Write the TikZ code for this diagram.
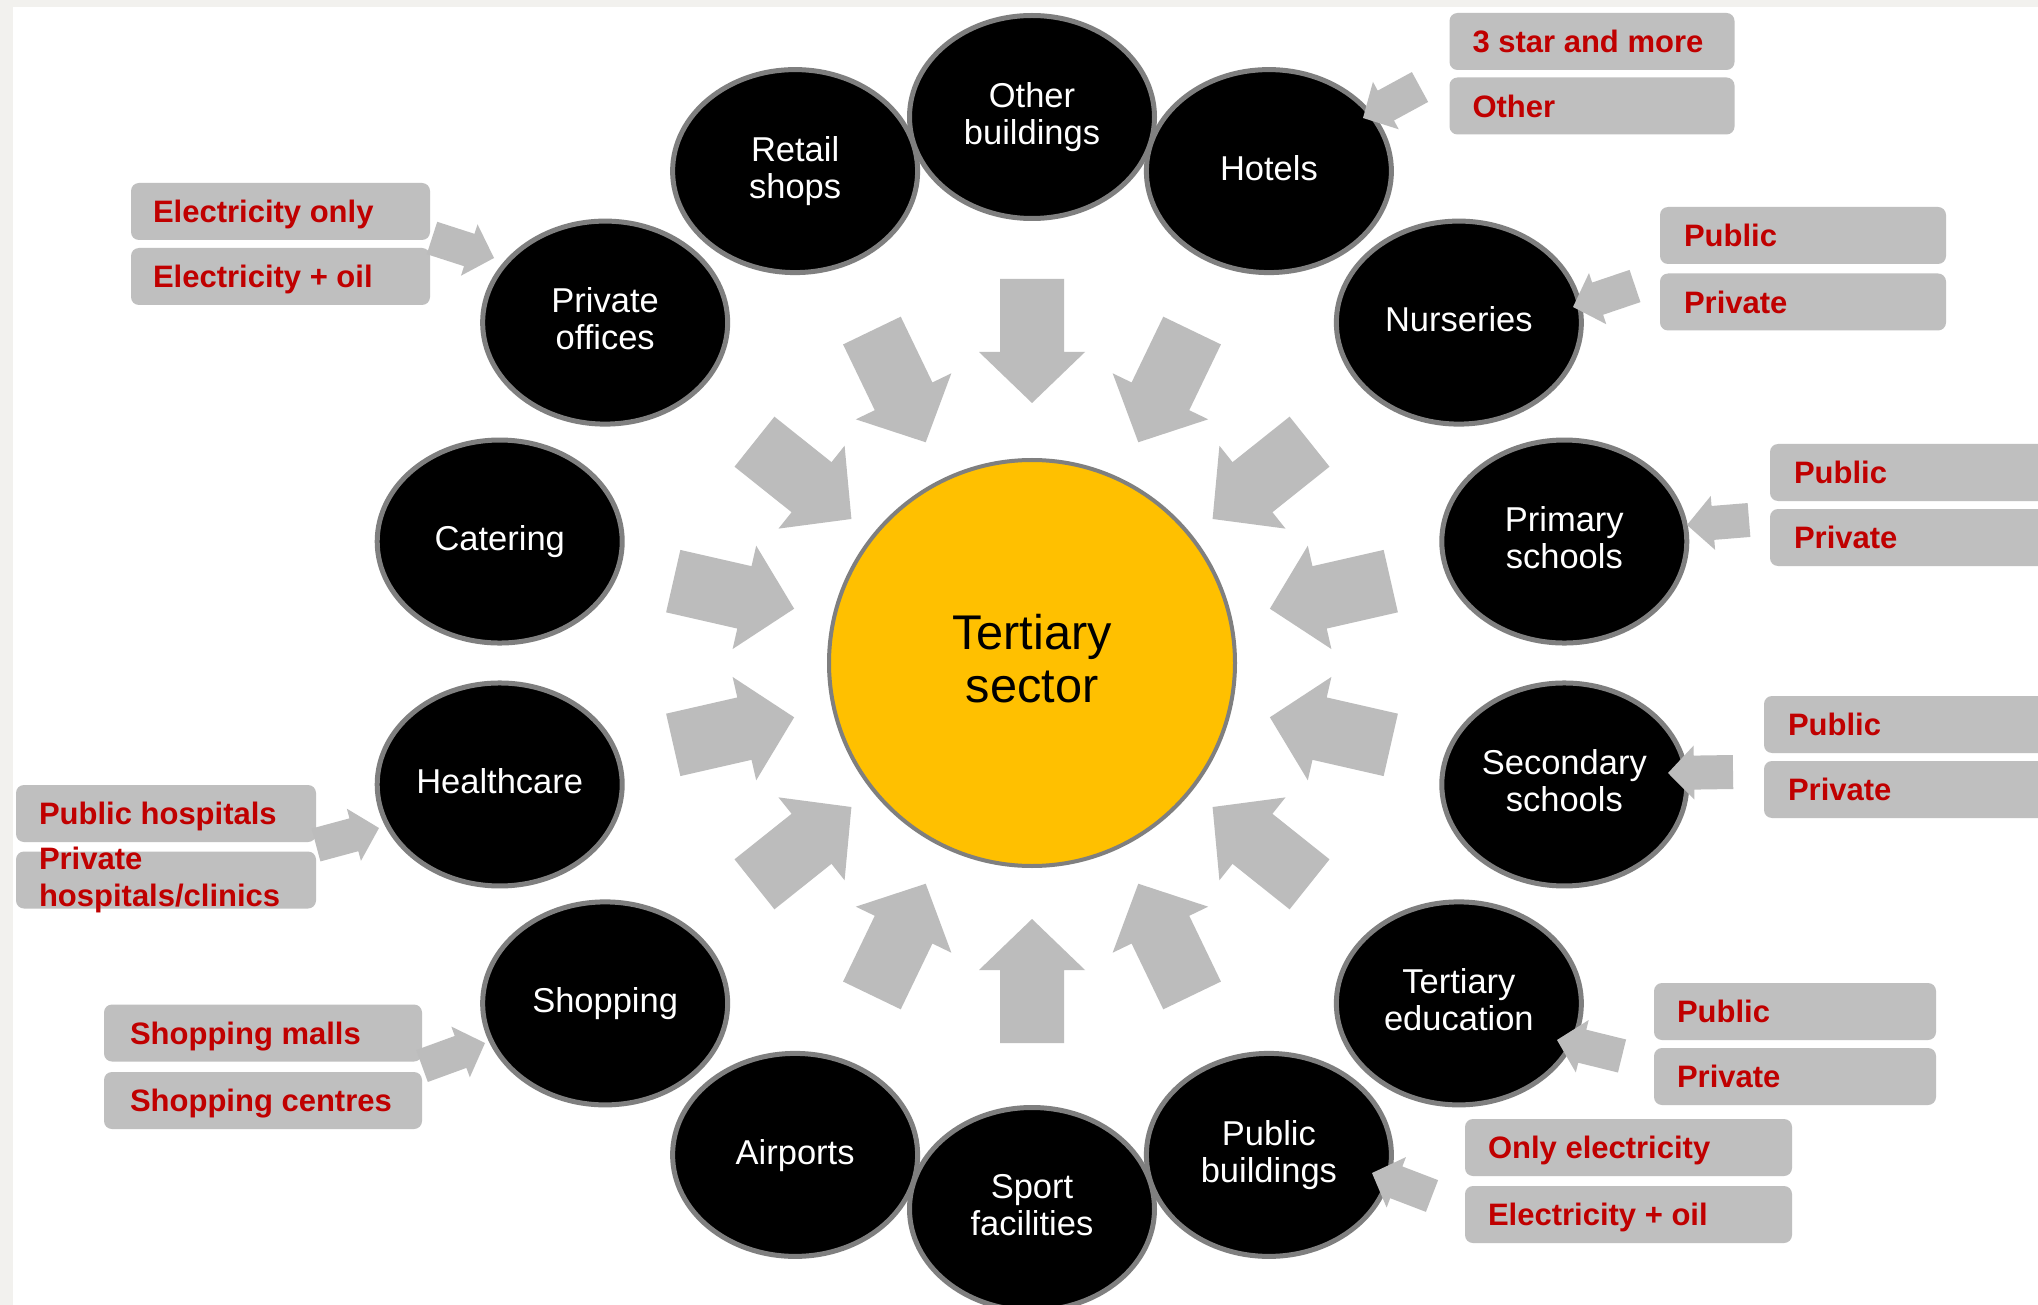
\documentclass[tikz,border=0pt]{standalone}
\usepackage{fontspec}
\setmainfont{Liberation Sans}
\usetikzlibrary{shapes.geometric,calc}

\definecolor{boxgrey}{HTML}{BFBFBF}
\definecolor{arrowgrey}{HTML}{BCBCBC}
\definecolor{rimgrey}{HTML}{7F7F7F}
\definecolor{sun}{HTML}{FFC000}
\definecolor{labelred}{HTML}{C00000}
\definecolor{paper}{HTML}{F2F1EE}

% block arrow: #1 tail, #2 tip, #3 half shaft width, #4 half head width,
% #5 head length, #6 prefix for the helper coordinate
\newcommand\blockarrow[6]{%
  \coordinate (#6-hb) at ($(#2)!#5!(#1)$);
  \fill[arrowgrey] ($(#1)!#3!90:(#2)$) -- ($(#6-hb)!#3!-90:(#1)$)
    -- ($(#6-hb)!#4!-90:(#1)$) -- (#2) -- ($(#6-hb)!#4!90:(#1)$)
    -- ($(#6-hb)!#3!90:(#1)$) -- ($(#1)!#3!-90:(#2)$) -- cycle;
}

% invisible struts so that every label sits on the same line metrics
\newcommand\bubblestrut{\rule[-7.3pt]{0pt}{33.3pt}}
\newcommand\hubstrut{\rule[-9pt]{0pt}{45pt}}
\newcommand\labelstrut{\rule[-6.8pt]{0pt}{36.3pt}}

\begin{document}
\begin{tikzpicture}[x=1pt,y=1pt,
  bubble/.style={ellipse, draw=rimgrey, line width=5pt, fill=black,
    minimum width=245pt, minimum height=203pt, inner sep=0pt,
    text=white, align=center, font=\fontsize{34.5}{37}\selectfont,
    execute at begin node=\bubblestrut, execute at end node=\bubblestrut},
  hub/.style={circle, draw=rimgrey, line width=4pt, fill=sun,
    minimum size=406pt, inner sep=0pt, align=center,
    font=\fontsize{48.7}{53}\selectfont,
    execute at begin node=\hubstrut, execute at end node=\hubstrut},
  subbox/.style={rectangle, rounded corners=8pt, fill=boxgrey,
    minimum height=57pt, inner sep=0pt},
  subtext/.style={anchor=west, inner sep=0pt, text=labelred, align=left,
    font=\bfseries\fontsize{31}{37}\selectfont,
    execute at begin node=\labelstrut, execute at end node=\labelstrut},
]
\useasboundingbox (0,0) rectangle (2038,-1305);
\clip (0,0) rectangle (2038,-1305);
\fill[paper] (0,0) rectangle (2038,-1305);
\fill[white] (13,-7) rectangle (2038,-1305);

\coordinate (c) at (1032,-663);

% ring of inward arrows
\foreach \k/\m in {0/322,1/307,2/293,3/306,4/306,5/293,6/307,7/318,8/307,9/293,10/306,11/306,12/293,13/307}{
  \pgfmathsetmacro\ang{90-\k*360/14}
  \pgfmathsetmacro\rt{\m+62}
  \pgfmathsetmacro\rp{\m-62}
  \coordinate (ring-tail-\k) at ([shift={(\ang:\rt)}]c);
  \coordinate (ring-tip-\k) at ([shift={(\ang:\rp)}]c);
  \blockarrow{ring-tail-\k}{ring-tip-\k}{32pt}{53pt}{51pt}{ring\k}
}

% centre
\node[hub] (hub) at (c) {Tertiary\\sector};

% categories around the centre
\node[bubble] (other)    at ([shift={(90:546)}]c)      {Other\\buildings};
\node[bubble] (hotels)   at ([shift={(64.286:546)}]c)  {Hotels};
\node[bubble] (nurs)     at ([shift={(38.571:546)}]c)  {Nurseries};
\node[bubble] (primary)  at ([shift={(12.857:546)}]c)  {Primary\\schools};
\node[bubble] (second)   at ([shift={(-12.857:546)}]c) {Secondary\\schools};
\node[bubble] (tertedu)  at ([shift={(-38.571:546)}]c) {Tertiary\\education};
\node[bubble] (airports) at ([shift={(-115.714:546)}]c) {Airports};
\node[bubble] (sport)    at ([shift={(-90:546)}]c)     {Sport\\facilities};
\node[bubble] (pubbuild) at ([shift={(-64.286:546)}]c) {Public\\buildings};
\node[bubble] (shopping) at ([shift={(-141.429:546)}]c) {Shopping};
\node[bubble] (health)   at ([shift={(-167.143:546)}]c) {Healthcare};
\node[bubble] (catering) at ([shift={(167.143:546)}]c) {Catering};
\node[bubble] (offices)  at ([shift={(141.429:546)}]c) {Private\\offices};
\node[bubble] (retail)   at ([shift={(115.714:546)}]c) {Retail\\shops};

% sub-category boxes
\node[subbox, minimum width=285pt] (hot-a) at (1592,-41.5) {};
\node[subbox, minimum width=285pt] (hot-b) at (1592,-106) {};
\node[subbox, minimum width=286pt] (nur-a) at (1803,-235.5) {};
\node[subbox, minimum width=286pt] (nur-b) at (1803,-302) {};
\node[subbox, minimum width=299pt] (off-a) at (280.5,-211.5) {};
\node[subbox, minimum width=299pt] (off-b) at (280.5,-276.5) {};
\node[subbox, minimum width=300pt] (pri-a) at (1920,-472.5) {};
\node[subbox, minimum width=300pt] (pri-b) at (1920,-537.5) {};
\node[subbox, minimum width=300pt] (sec-a) at (1914,-724.5) {};
\node[subbox, minimum width=300pt] (sec-b) at (1914,-789.5) {};
\node[subbox, minimum width=300pt] (hea-a) at (166,-813.5) {};
\node[subbox, minimum width=300pt] (hea-b) at (166,-880) {};
\node[subbox, minimum width=318pt] (sho-a) at (263,-1033) {};
\node[subbox, minimum width=318pt] (sho-b) at (263,-1100.5) {};
\node[subbox, minimum width=282pt] (ter-a) at (1795,-1011.5) {};
\node[subbox, minimum width=282pt] (ter-b) at (1795,-1076.5) {};
\node[subbox, minimum width=327pt] (pub-a) at (1628.5,-1147.5) {};
\node[subbox, minimum width=327pt] (pub-b) at (1628.5,-1214.5) {};

\node[subtext] (hot-a-t) at ([xshift=23pt]hot-a.west) {3 star and more};
\node[subtext] (hot-b-t) at ([xshift=23pt]hot-b.west) {Other};
\node[subtext] (nur-a-t) at ([xshift=24pt]nur-a.west) {Public};
\node[subtext] (nur-b-t) at ([xshift=24pt]nur-b.west) {Private};
\node[subtext] (off-a-t) at ([xshift=22pt]off-a.west) {Electricity only};
\node[subtext] (off-b-t) at ([xshift=22pt]off-b.west) {Electricity + oil};
\node[subtext] (pri-a-t) at ([xshift=24pt]pri-a.west) {Public};
\node[subtext] (pri-b-t) at ([xshift=24pt]pri-b.west) {Private};
\node[subtext] (sec-a-t) at ([xshift=24pt]sec-a.west) {Public};
\node[subtext] (sec-b-t) at ([xshift=24pt]sec-b.west) {Private};
\node[subtext] (hea-a-t) at ([xshift=23pt]hea-a.west) {Public hospitals};
\node[subtext] (hea-b-t) at ([xshift=23pt]hea-b.west) {Private\\hospitals/clinics};
\node[subtext] (sho-a-t) at ([xshift=26pt]sho-a.west) {Shopping malls};
\node[subtext] (sho-b-t) at ([xshift=26pt]sho-b.west) {Shopping centres};
\node[subtext] (ter-a-t) at ([xshift=23pt]ter-a.west) {Public};
\node[subtext] (ter-b-t) at ([xshift=23pt]ter-b.west) {Private};
\node[subtext] (pub-a-t) at ([xshift=23pt]pub-a.west) {Only electricity};
\node[subtext] (pub-b-t) at ([xshift=23pt]pub-b.west) {Electricity + oil};

% small feeder arrows from the boxes to their category
\coordinate (hotels-feed)   at (1420,-87);   \coordinate (hotels-in)   at (1363,-118);
\coordinate (nurs-feed)     at (1635,-286);  \coordinate (nurs-in)     at (1573,-307);
\coordinate (offices-feed)  at (432,-238);   \coordinate (offices-in)  at (494,-258);
\coordinate (primary-feed)  at (1749,-520);  \coordinate (primary-in)  at (1687,-525);
\coordinate (second-feed)   at (1733,-772);  \coordinate (second-in)   at (1668,-773);
\coordinate (health-feed)   at (316,-845);   \coordinate (health-in)   at (379,-828);
\coordinate (shopping-feed) at (422,-1066);  \coordinate (shopping-in) at (485,-1043);
\coordinate (tertedu-feed)  at (1622,-1056); \coordinate (tertedu-in)  at (1557,-1040);
\coordinate (pubbuild-feed) at (1432,-1196); \coordinate (pubbuild-in) at (1372,-1173);

\foreach \n in {hotels,nurs,offices,primary,second,health,shopping,tertedu,pubbuild}{
  \blockarrow{\n-feed}{\n-in}{17pt}{27pt}{26pt}{\n-arr}
}
\end{tikzpicture}
\end{document}
